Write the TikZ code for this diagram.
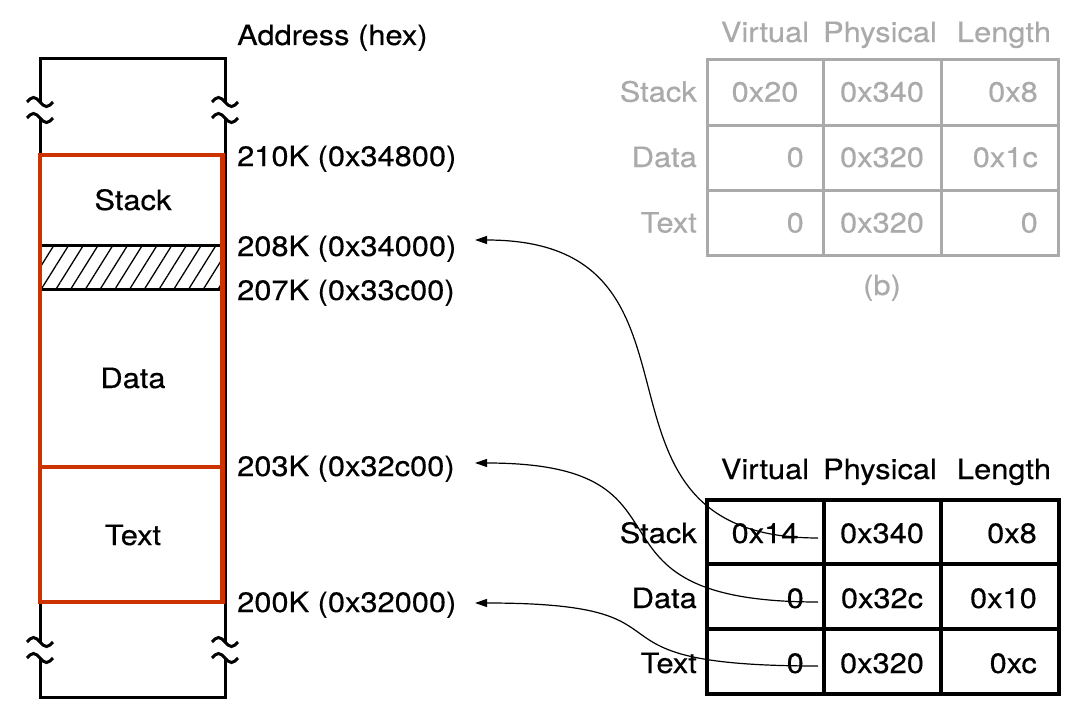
\documentclass[tikz,border=0pt]{standalone}
\usepackage{fontspec}
\setmainfont[FakeStretch=1.1,FakeBold=0.4]{TeX Gyre Heros}
\usetikzlibrary{arrows.meta,patterns.meta}
\definecolor{segred}{RGB}{204,51,0}
\definecolor{lightg}{RGB}{170,170,170}
\begin{document}
\begin{tikzpicture}[x=1pt,y=-1pt,
  txt/.style={inner sep=0pt,font=\fontsize{28}{33}\selectfont},
  gtxt/.style={txt,text=lightg},
  frame/.style={line width=3pt,black},
  seg/.style={line width=4.6pt,segred},
  tblk/.style={line width=3.2pt,black},
  tgray/.style={line width=3pt,lightg},
  conn/.style={line width=1.2pt,-{Triangle[length=12pt,width=8pt]}},
  tilde/.pic={\draw[frame] (-13,0) sin (-6.5,-4.5) cos (0,0) sin (6.5,4.5) cos (13,0);}
  ]
\useasboundingbox[fill=white] (0,0) rectangle (1080,709);

% ---------- memory column ----------
\fill[pattern={Lines[angle=58,distance=12.5pt,line width=1.3pt]}] (42,245) rectangle (221,289);
\draw[frame] (42,245) -- (221,245);
\draw[frame] (42,289) -- (221,289);

\draw[frame] (40,102) -- (40,59) -- (225,59) -- (225,102);
\draw[frame] (40,118) -- (40,642);
\draw[frame] (225,118) -- (225,642);
\draw[frame] (40,658) -- (40,697) -- (225,697) -- (225,658);
\pic at (40,102) {tilde};
\pic at (40,118) {tilde};
\pic at (225,102) {tilde};
\pic at (225,118) {tilde};
\pic at (40,642) {tilde};
\pic at (40,658) {tilde};
\pic at (225,642) {tilde};
\pic at (225,658) {tilde};

\draw[seg] (40,155) rectangle (222.5,602);
\draw[seg] (40,467) -- (222.5,467);

\node[txt,anchor=base] (segstack) at (133,210) {Stack};
\node[txt,anchor=base] (segdata) at (133,388) {Data};
\node[txt,anchor=base] (segtext) at (133,545) {Text};

% ---------- addresses ----------
\node[txt,anchor=base west] (addr) at (237,45) {Address (hex)};
\node[txt,anchor=base west] (a210) at (237,166) {210K (0x34800)};
\node[txt,anchor=base west] (a208) at (237,256) {208K (0x34000)};
\node[txt,anchor=base west] (a207) at (237,300) {207K (0x33c00)};
\node[txt,anchor=base west] (a203) at (237,476) {203K (0x32c00)};
\node[txt,anchor=base west] (a200) at (237,612) {200K (0x32000)};

% ---------- table (b), gray ----------
\draw[tgray] (707,60) rectangle (1058,255);
\draw[tgray] (823,60) -- (823,255);
\draw[tgray] (941,60) -- (941,255);
\draw[tgray] (707,125) -- (1058,125);
\draw[tgray] (707,190) -- (1058,190);
\node[gtxt,anchor=base] (bh1) at (765,42) {Virtual};
\node[gtxt,anchor=base] (bh2) at (880,42) {Physical};
\node[gtxt,anchor=base] (bh3) at (1004,42) {Length};
\node[gtxt,anchor=base east] (br1) at (697,101.7) {Stack};
\node[gtxt,anchor=base east] (br2) at (697,167) {Data};
\node[gtxt,anchor=base east] (br3) at (697,232.5) {Text};
\node[gtxt,anchor=base] (b11) at (765,101.7) {0x20};
\node[gtxt,anchor=base east] (b21) at (804,167) {0};
\node[gtxt,anchor=base east] (b31) at (804,232.5) {0};
\node[gtxt,anchor=base] (b12) at (882,101.7) {0x340};
\node[gtxt,anchor=base] (b22) at (882,167) {0x320};
\node[gtxt,anchor=base] (b32) at (882,232.5) {0x320};
\node[gtxt,anchor=base east] (b13) at (1038,101.7) {0x8};
\node[gtxt,anchor=base east] (b23) at (1038,167) {0x1c};
\node[gtxt,anchor=base east] (b33) at (1038,232.5) {0};
\node[gtxt,anchor=base] (blab) at (882,295) {(b)};

% ---------- table, black ----------
\draw[tblk] (707,500) rectangle (1059,694);
\draw[tblk] (824,500) -- (824,694);
\draw[tblk] (941,500) -- (941,694);
\draw[tblk] (707,564) -- (1059,564);
\draw[tblk] (707,629) -- (1059,629);
\node[txt,anchor=base] (h1) at (765,479) {Virtual};
\node[txt,anchor=base] (h2) at (880,479) {Physical};
\node[txt,anchor=base] (h3) at (1004,479) {Length};
\node[txt,anchor=base east] (r1) at (697,543) {Stack};
\node[txt,anchor=base east] (r2) at (697,608) {Data};
\node[txt,anchor=base east] (r3) at (697,673) {Text};
\node[txt,anchor=base] (c11) at (765,543) {0x14};
\node[txt,anchor=base east] (c21) at (804,608) {0};
\node[txt,anchor=base east] (c31) at (804,673) {0};
\node[txt,anchor=base] (c12) at (882,543) {0x340};
\node[txt,anchor=base] (c22) at (882,608) {0x32c};
\node[txt,anchor=base] (c32) at (882,673) {0x320};
\node[txt,anchor=base east] (c13) at (1037,543) {0x8};
\node[txt,anchor=base east] (c23) at (1037,608) {0x10};
\node[txt,anchor=base east] (c33) at (1037,673) {0xc};

% ---------- connectors ----------
\coordinate (sStack) at (818,538);
\coordinate (sData) at (818,602);
\coordinate (sText) at (818,666);
\coordinate (tStack) at (475,240);
\coordinate (tData) at (475,463);
\coordinate (tText) at (475,603);
\draw[conn] (sStack) .. controls (560,538) and (735,240) .. (tStack);
\draw[conn] (sData) .. controls (560,602) and (715,463) .. (tData);
\draw[conn] (sText) .. controls (560,666) and (715,603) .. (tText);
\end{tikzpicture}
\end{document}
